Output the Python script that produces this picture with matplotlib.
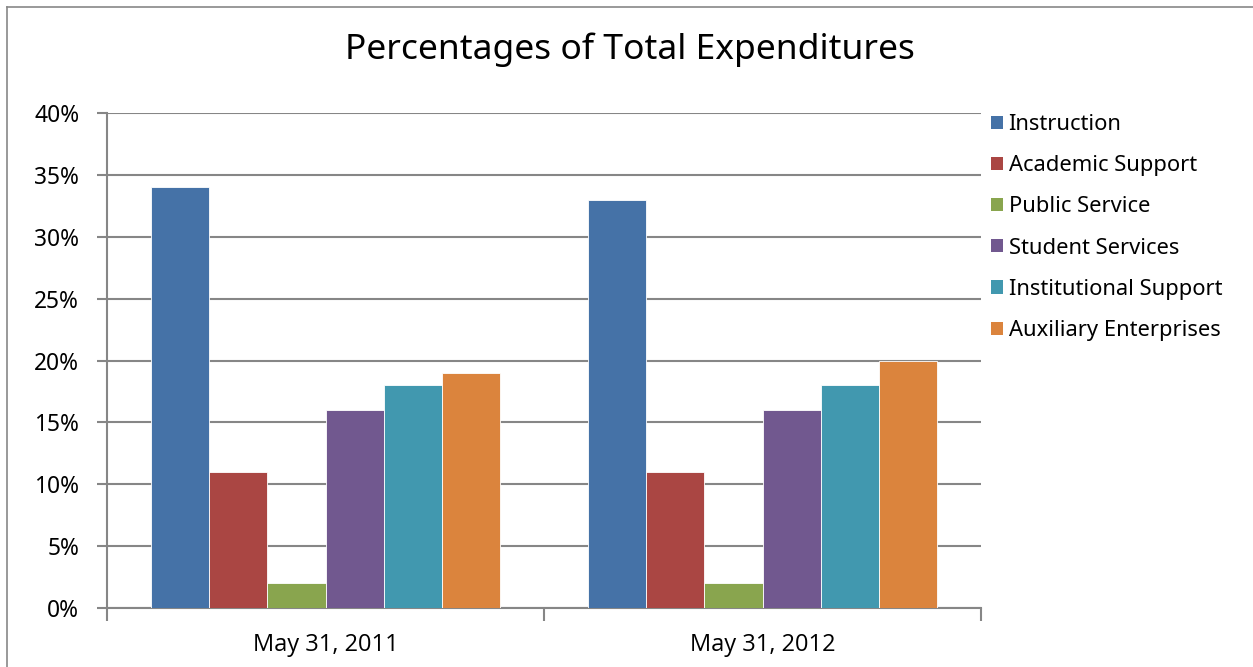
import matplotlib
matplotlib.use("Agg")
import matplotlib.pyplot as plt
from matplotlib.patches import Patch
from matplotlib.lines import Line2D
import numpy as np

categories = ["May 31, 2011", "May 31, 2012"]
series = ["Instruction", "Academic Support", "Public Service",
          "Student Services", "Institutional Support", "Auxiliary Enterprises"]
instruction = [34, 33]
academic_support = [11, 11]
public_service = [2, 2]
student_services = [16, 16]
institutional_support = [18, 18]
auxiliary_enterprises = [19, 20]
values = [instruction, academic_support, public_service,
          student_services, institutional_support, auxiliary_enterprises]
colors = ["#4572A7", "#AA4643", "#89A54E", "#71588F", "#4198AF", "#DB843D"]
yticks = [0, 5, 10, 15, 20, 25, 30, 35, 40]

main_font = "Noto Sans"
fig = plt.figure(figsize=(12.53, 6.67), dpi=100)
ax = fig.add_axes([107/1253, 59/667, 874/1253, 495/667])

n = len(series)
group_w = 0.8
bw = group_w / n
x = np.arange(len(categories))
for i, (s, v, c) in enumerate(zip(series, values, colors)):
    ax.bar(x - group_w/2 + bw*(i+0.5), v, width=bw, color=c, label=s,
           edgecolor="white", linewidth=0.6, zorder=3)

gray = "#868686"
ax.set_xlim(-0.5, 1.5)
ax.set_ylim(0, 40)
ax.set_yticks(yticks)
ax.set_yticklabels([f"{t}%" for t in yticks], fontfamily=main_font, fontsize=16.4)
ax.yaxis.grid(True, color=gray, linewidth=1.5, zorder=0)
ax.set_axisbelow(True)
ax.tick_params(axis="y", length=7, width=1.5, color=gray, pad=13)
ax.set_xticks(x)
ax.set_xticklabels(categories, fontfamily="Open Sans", fontsize=17)
ax.set_xticks([-0.5, 0.5, 1.5], minor=True)
ax.tick_params(axis="x", which="major", length=0, pad=18)
ax.tick_params(axis="x", which="minor", length=9, width=1.5, color=gray)
for sp in ["top", "right"]:
    ax.spines[sp].set_visible(False)
for sp in ["left", "bottom"]:
    ax.spines[sp].set_color(gray)
    ax.spines[sp].set_linewidth(1.5)

fig.text(630/1253, 1 - 50/667, "Percentages of Total Expenditures",
         ha="center", va="center", fontfamily=main_font, fontsize=25.5)

handles = [Patch(facecolor=c, edgecolor="none") for c in colors]
leg = fig.legend(handles, series, loc="upper left",
                 bbox_to_anchor=(991/1253, 1 - 114/667),
                 frameon=False, prop={"family": main_font, "size": 15.8},
                 handlelength=0.55, handleheight=0.55, handletextpad=0.25,
                 labelspacing=0.92, borderaxespad=0, borderpad=0)

fig.add_artist(Line2D([7/1253, 7/1253], [0, 1 - 7/667], color="#888888", linewidth=1.2))
fig.add_artist(Line2D([7/1253, 1], [1 - 7/667, 1 - 7/667], color="#888888", linewidth=1.2))

fig.savefig("out.png", dpi=100)
